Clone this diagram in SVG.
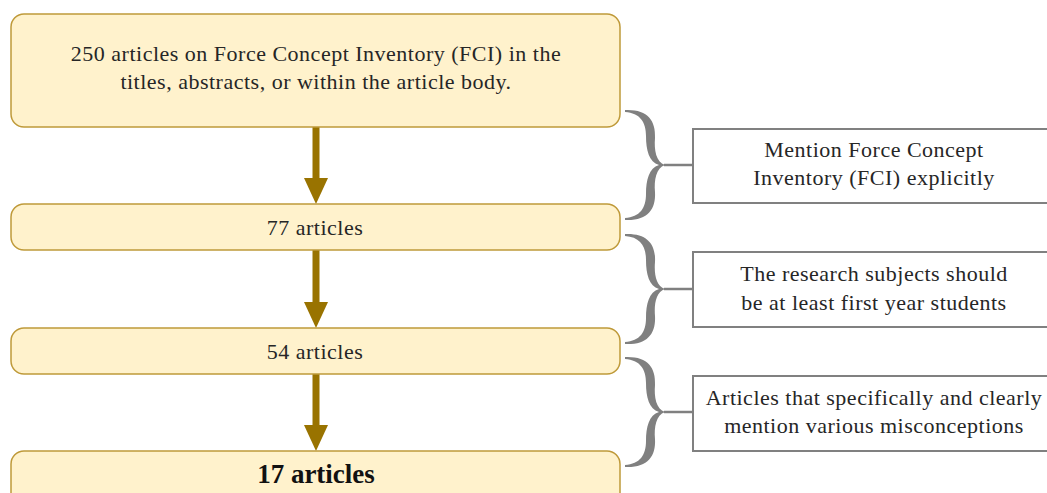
<svg xmlns="http://www.w3.org/2000/svg" width="1047" height="493" viewBox="0 0 1047 493">
<style>
.step{fill:#fff2cc;stroke:#bf9a3a;stroke-width:1.5}
.crit{fill:#ffffff;stroke:#808080;stroke-width:2}
.t{font-family:"Liberation Serif","Times New Roman",serif;font-size:22px;fill:#262626;text-anchor:middle;letter-spacing:0.5px}
.tb{font-family:"Liberation Serif","Times New Roman",serif;font-size:27px;font-weight:bold;fill:#111;text-anchor:middle}
.shaft{stroke:#997300;stroke-width:7;fill:none}
.head{fill:#997300}
.brace{fill:#808080}
.link{stroke:#808080;stroke-width:2.5;fill:none}
</style>
<defs>
<path id="brace" d="M0,0 C22,-1 31,10 30,28 C29,40 31,52 40,55 C31,58 29,70 30,82 C31,100 22,111 0,110 L0,108 C15,107 21,98 21,84 C21,70 24,58 34,55 C24,52 21,40 21,26 C21,12 15,3 0,2 Z"/>
</defs>
<g id="connectors">
<line class="shaft" x1="316" y1="127" x2="316" y2="180"/>
<polygon class="head" points="304,178 328,178 316,204"/>
<line class="shaft" x1="316" y1="250" x2="316" y2="304"/>
<polygon class="head" points="304,302 328,302 316,328"/>
<line class="shaft" x1="316" y1="374" x2="316" y2="427"/>
<polygon class="head" points="304,425 328,425 316,451"/>
<use href="#brace" class="brace" x="625" y="110"/>
<line class="link" x1="664" y1="165" x2="693" y2="165"/>
<use href="#brace" class="brace" x="625" y="234"/>
<line class="link" x1="664" y1="289" x2="693" y2="289"/>
<use href="#brace" class="brace" x="625" y="357"/>
<line class="link" x1="664" y1="412" x2="693" y2="412"/>
</g>
<g id="n250">
<rect class="step" x="11" y="14" width="609" height="113" rx="13"/>
<text class="t" x="316" y="61">250 articles on Force Concept Inventory (FCI) in the</text>
<text class="t" x="316" y="89">titles, abstracts, or within the article body.</text>
</g>
<g id="n77">
<rect class="step" x="11" y="204" width="609" height="46" rx="13"/>
<text class="t" x="315" y="235">77 articles</text>
</g>
<g id="n54">
<rect class="step" x="11" y="328" width="609" height="46" rx="13"/>
<text class="t" x="315" y="359">54 articles</text>
</g>
<g id="n17">
<rect class="step" x="11" y="451" width="609" height="56" rx="13"/>
<text class="tb" x="316" y="483">17 articles</text>
</g>
<g id="c1">
<rect class="crit" x="693" y="129" width="362" height="74"/>
<text class="t" x="874" y="157">Mention Force Concept</text>
<text class="t" x="874" y="185">Inventory (FCI) explicitly</text>
</g>
<g id="c2">
<rect class="crit" x="693" y="252" width="362" height="75"/>
<text class="t" x="874" y="281">The research subjects should</text>
<text class="t" x="874" y="310">be at least first year students</text>
</g>
<g id="c3">
<rect class="crit" x="693" y="376" width="362" height="75"/>
<text class="t" x="874" y="405">Articles that specifically and clearly</text>
<text class="t" x="874" y="433">mention various misconceptions</text>
</g>
</svg>
